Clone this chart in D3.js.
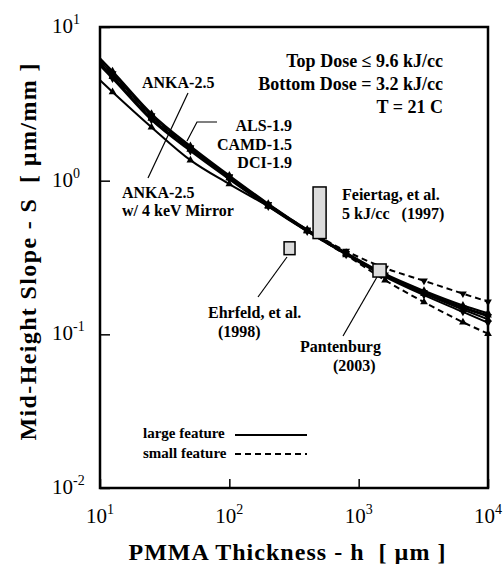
<!DOCTYPE html>
<html>
<head>
<meta charset="utf-8">
<script src="https://cdn.jsdelivr.net/npm/d3@7"></script>
<style>
  body { margin: 0; background: #fff; }
  text { font-family: "Liberation Serif", "Times New Roman", serif; fill: #000; }
</style>
</head>
<body>
<svg id="chart" width="504" height="564"></svg>
<script>
// thickness h [um] and mid-height slope S [um/mm]
var thickness = [10, 12.5, 25, 50, 100, 200, 400, 800, 1600, 3200, 6400, 10000];

// large feature (solid)
var anka25     = [6.25, 5.15, 2.73, 1.68, 1.08, 0.708, 0.481, 0.340, 0.247, 0.192, 0.154, 0.137];
var als19      = [6.02, 4.96, 2.65, 1.64, 1.06, 0.701, 0.476, 0.337, 0.244, 0.188, 0.149, 0.131];
var camd15     = [5.78, 4.76, 2.55, 1.60, 1.04, 0.690, 0.472, 0.333, 0.240, 0.184, 0.145, 0.125];
var dci19      = [5.61, 4.62, 2.48, 1.56, 1.02, 0.680, 0.467, 0.330, 0.237, 0.180, 0.140, 0.119];
var ankaMirror = [4.50, 3.78, 2.23, 1.36, 0.95, 0.680, 0.470, 0.334, 0.243, 0.188, 0.150, 0.133];

// small feature (dashed)
var smallUpper = [6.02, 4.96, 2.65, 1.64, 1.06, 0.701, 0.480, 0.348, 0.270, 0.223, 0.184, 0.163];
var smallLower = [5.78, 4.76, 2.55, 1.60, 1.04, 0.690, 0.470, 0.328, 0.225, 0.162, 0.120, 0.101];

// literature boxes
var refNames = ["Feiertag", "Ehrfeld", "Pantenburg"];
var refHMin  = [444, 265, 1290];
var refHMax  = [560, 322, 1630];
var refSMin  = [0.42, 0.33, 0.236];
var refSMax  = [0.91, 0.40, 0.287];

var xTicks = [10, 100, 1000, 10000];
var yTicks = [0.01, 0.1, 1, 10];

var svg = d3.select("#chart");
var pL = 100, pR = 488, pT = 27, pB = 488;

var x = d3.scaleLog().domain([10, 1e4]).range([pL, pR]);
var y = d3.scaleLog().domain([0.01, 10]).range([pB, pT]);

// inward major ticks
svg.append("g").attr("transform", "translate(0," + pB + ")")
    .call(d3.axisBottom(x).tickValues(xTicks).tickSize(-9).tickFormat(""))
    .call(function(g) { g.select(".domain").remove(); g.selectAll("line").attr("stroke-width", 1.5); });
svg.append("g").attr("transform", "translate(" + pL + ",0)")
    .call(d3.axisLeft(y).tickValues(yTicks).tickSize(-10).tickFormat(""))
    .call(function(g) { g.select(".domain").remove(); g.selectAll("line").attr("stroke-width", 1.5); });

// tick labels as 10^n
xTicks.forEach(function(v) {
    var t = svg.append("text").attr("x", x(v)).attr("y", 523)
        .attr("text-anchor", "middle").style("font-size", "21px");
    t.append("tspan").text("10");
    t.append("tspan").attr("dy", -9).style("font-size", "14px").text(Math.round(Math.log10(v)));
});
yTicks.forEach(function(v) {
    var t = svg.append("text").attr("x", 52).attr("y", y(v) + 6)
        .style("font-size", "21px");
    t.append("tspan").text("10");
    t.append("tspan").attr("dy", -9).style("font-size", "14px").text(Math.round(Math.log10(v)));
});

var line = d3.line()
    .x(function(d) { return x(d[0]); })
    .y(function(d) { return y(d[1]); })
    .curve(d3.curveMonotoneX);

var solids = [anka25, als19, camd15, dci19, ankaMirror];
var dashed = [smallUpper, smallLower];

function pts(series) { return thickness.map(function(h, i) { return [h, series[i]]; }); }

dashed.forEach(function(s) {
    svg.append("path").datum(pts(s)).attr("d", line)
        .attr("fill", "none").attr("stroke", "#000").attr("stroke-width", 2)
        .attr("stroke-dasharray", "6,4");
});
solids.forEach(function(s) {
    svg.append("path").datum(pts(s)).attr("d", line)
        .attr("fill", "none").attr("stroke", "#000").attr("stroke-width", 2);
});

// markers
var sym = d3.symbol().type(d3.symbolTriangle).size(26);
solids.concat(dashed).forEach(function(s, k) {
    svg.append("g").selectAll("path").data(pts(s).slice(1)).enter().append("path")
        .attr("d", sym)
        .attr("transform", function(d) {
            return "translate(" + x(d[0]) + "," + y(d[1]) + ")" + (k % 2 ? " rotate(180)" : "");
        })
        .attr("fill", "#000");
});

// literature boxes
refNames.forEach(function(n, i) {
    svg.append("rect")
        .attr("x", x(refHMin[i])).attr("y", y(refSMax[i]))
        .attr("width", x(refHMax[i]) - x(refHMin[i]))
        .attr("height", y(refSMin[i]) - y(refSMax[i]))
        .attr("fill", "#dcdcdc").attr("stroke", "#000").attr("stroke-width", 1.5);
});

// frame
svg.append("rect").attr("x", pL).attr("y", pT)
    .attr("width", pR - pL).attr("height", pB - pT)
    .attr("fill", "none").attr("stroke", "#000").attr("stroke-width", 2.5);

function label(tx, ty, str, size, anchor) {
    return svg.append("text").attr("x", tx).attr("y", ty)
        .attr("text-anchor", anchor || "start")
        .style("font-size", size + "px").style("font-weight", "bold")
        .text(str);
}

label(443, 67, "Top Dose \u2264 9.6 kJ/cc", 18, "end");
label(443, 90, "Bottom Dose = 3.2 kJ/cc", 18, "end");
label(443, 113, "T = 21 C", 18, "end");

label(142, 88, "ANKA-2.5", 16);
label(292, 131, "ALS-1.9", 16, "end");
label(292, 150, "CAMD-1.5", 16, "end");
label(292, 168, "DCI-1.9", 16, "end");
label(122, 198, "ANKA-2.5", 16);
label(122, 216, "w/ 4 keV Mirror", 16);

label(342, 200, "Feiertag, et al.", 16);
label(342, 219, "5 kJ/cc   (1997)", 16).style("white-space", "pre");
label(208, 318, "Ehrfeld, et al.", 16);
label(218, 337, "(1998)", 16);
label(300, 352, "Pantenburg", 16);
label(333, 371, "(2003)", 16);

// leader lines
var leaders = [
    [[188, 93], [148, 178]],
    [[217, 122], [197, 122], [187, 141]],
    [[287, 257], [258, 297]],
    [[377, 277], [343, 336]]
];
leaders.forEach(function(p) {
    svg.append("path").attr("d", d3.line()(p))
        .attr("fill", "none").attr("stroke", "#000").attr("stroke-width", 1.2);
});

// legend
label(143, 438, "large feature", 15);
label(143, 458, "small feature", 15);
svg.append("line").attr("x1", 235).attr("x2", 307).attr("y1", 435).attr("y2", 435)
    .attr("stroke", "#000").attr("stroke-width", 2);
svg.append("line").attr("x1", 235).attr("x2", 307).attr("y1", 454).attr("y2", 454)
    .attr("stroke", "#000").attr("stroke-width", 2).attr("stroke-dasharray", "6,4");

// axis titles
label(287, 560, "PMMA Thickness - h  [ \u00b5m ]", 24, "middle")
    .style("white-space", "pre").attr("textLength", 317).attr("lengthAdjust", "spacing");
svg.append("text").attr("transform", "translate(36,252) rotate(-90)")
    .attr("text-anchor", "middle").style("font-size", "24px").style("font-weight", "bold")
    .style("white-space", "pre").attr("textLength", 377).attr("lengthAdjust", "spacing")
    .text("Mid-Height Slope - S  [ \u00b5m/mm ]");
</script>
</body>
</html>
